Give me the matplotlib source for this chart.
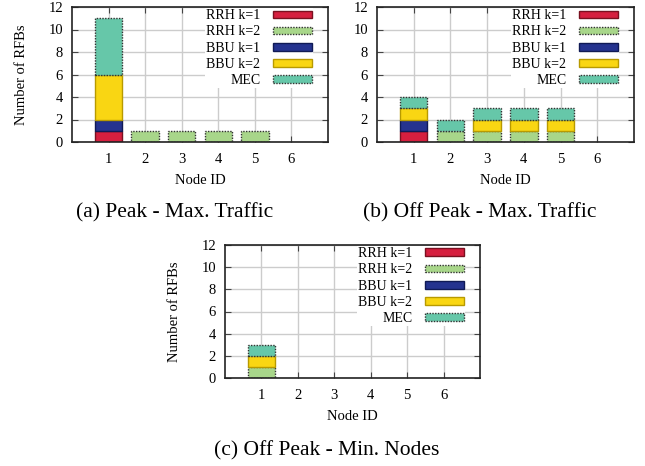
import numpy as np
import matplotlib
matplotlib.use("Agg")
import matplotlib.pyplot as plt
from matplotlib.patches import Patch

plt.rcParams['font.family'] = ['Liberation Serif', 'DejaVu Serif']

nodes = [1, 2, 3, 4, 5, 6]
series = ["RRH k=1", "RRH k=2", "BBU k=1", "BBU k=2", "MEC"]

# panel (a) Peak - Max. Traffic
a_rrh1 = [1, 0, 0, 0, 0, 0]
a_rrh2 = [0, 1, 1, 1, 1, 0]
a_bbu1 = [1, 0, 0, 0, 0, 0]
a_bbu2 = [4, 0, 0, 0, 0, 0]
a_mec = [5, 0, 0, 0, 0, 0]
# panel (b) Off Peak - Max. Traffic
b_rrh1 = [1, 0, 0, 0, 0, 0]
b_rrh2 = [0, 1, 1, 1, 1, 0]
b_bbu1 = [1, 0, 0, 0, 0, 0]
b_bbu2 = [1, 0, 1, 1, 1, 0]
b_mec = [1, 1, 1, 1, 1, 0]
# panel (c) Off Peak - Min. Nodes
c_rrh1 = [0, 0, 0, 0, 0, 0]
c_rrh2 = [1, 0, 0, 0, 0, 0]
c_bbu1 = [0, 0, 0, 0, 0, 0]
c_bbu2 = [1, 0, 0, 0, 0, 0]
c_mec = [1, 0, 0, 0, 0, 0]

yticks = [0, 2, 4, 6, 8, 10, 12]
captions = ["(a) Peak - Max. Traffic", "(b) Off Peak - Max. Traffic", "(c) Off Peak - Min. Nodes"]
ylabels = ["Number of RFBs", "", "Number of RFBs"]

faces = ["#d61f3f", "#a8d68a", "#25338f", "#f9d613", "#66c7a9"]
edges = ["#7a1020", "#333333", "#101a55", "#b89a00", "#333333"]
styles = ["-", (0, (1, 1)), "-", "-", (0, (1, 1))]

fig = plt.figure(figsize=(6.45, 4.66), dpi=100)
W, H = 645, 466

def add_axes(l, t, r, b):
    return fig.add_axes([l / W, 1 - b / H, (r - l) / W, (b - t) / H])

axes = [add_axes(72, 7, 328, 142), add_axes(377, 7, 634, 142), add_axes(225, 245, 480, 378)]
data = [
    [a_rrh1, a_rrh2, a_bbu1, a_bbu2, a_mec],
    [b_rrh1, b_rrh2, b_bbu1, b_bbu2, b_mec],
    [c_rrh1, c_rrh2, c_bbu1, c_bbu2, c_mec],
]
cap_pos = [(175, 213), (480, 213), (327, 451)]

for ax, d, cap, yl, (cx, cy) in zip(axes, data, captions, ylabels, cap_pos):
    x = np.array(nodes)
    bottom = np.zeros(len(nodes))
    for vals, fc, ec, ls in zip(d, faces, edges, styles):
        v = np.array(vals, dtype=float)
        mask = v > 0
        ax.bar(x[mask], v[mask], width=0.75, bottom=bottom[mask], color=fc,
               edgecolor=ec, linewidth=1.0, linestyle=ls, zorder=3)
        bottom += v
    ax.set_xlim(0, 7)
    ax.set_ylim(0, 12)
    ax.set_xticks(nodes)
    ax.set_yticks(yticks)
    ax.tick_params(direction='in', length=4, width=0.8, labelsize=10.5,
                   top=True, right=True, color='#444444')
    ax.tick_params(axis='x', pad=8)
    ax.tick_params(axis='y', pad=6.5)
    ax.grid(True, color='#cccccc', linewidth=1.0, zorder=0)
    ax.set_axisbelow(True)
    for s in ax.spines.values():
        s.set_linewidth(1.2)
        s.set_color('#222222')
        s.set_zorder(5)
    ax.set_xlabel("Node ID", fontsize=10.5, labelpad=6)
    if yl:
        ax.set_ylabel(yl, fontsize=10.5, labelpad=15)
    handles = [Patch(facecolor=fc, edgecolor=ec, linestyle=ls, linewidth=1.0)
               for fc, ec, ls in zip(faces, edges, styles)]
    axw = ax.get_position().width * W
    axh = ax.get_position().height * H
    leg = ax.legend(handles, series, loc='upper right', markerfirst=False,
                    bbox_to_anchor=(1 - 15 / axw, 1 - 1 / axh),
                    fontsize=10, frameon=True, framealpha=1, facecolor='white',
                    edgecolor='none', fancybox=False, handlelength=2.8,
                    handleheight=0.5, labelspacing=0.22, handletextpad=0.9,
                    borderpad=0.1, borderaxespad=0.0)
    leg.set_zorder(4)
    fig.text(cx / W, 1 - cy / H, cap, ha='center', va='center', fontsize=15.5)

fig.savefig("out.png", dpi=100)
